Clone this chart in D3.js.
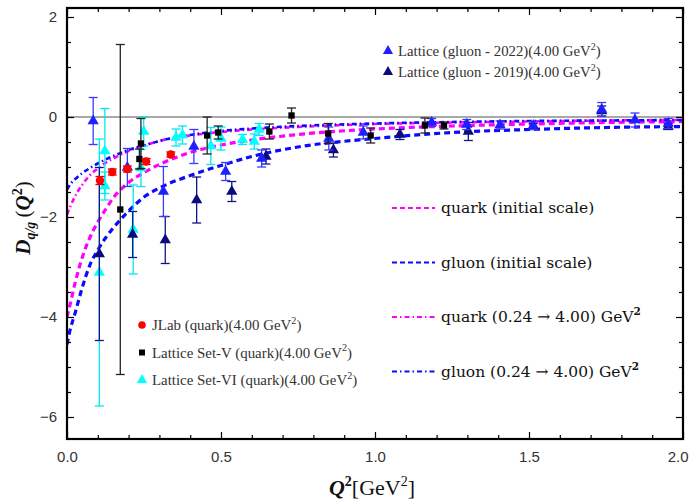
<!DOCTYPE html>
<html lang="en">
<head>
    <meta charset="UTF-8">
    <title>D-term form factors</title>
    <script src="https://d3js.org/d3.v7.min.js"></script>
    <style>
        body { margin: 0; background: #fff; }
        .ax text { font-family: "Liberation Sans", Arial, sans-serif; font-size: 15px; fill: #333; }
        .serif { font-family: "Liberation Serif", "Times New Roman", serif; }
        .cm { font-family: "DejaVu Serif", serif; }
    </style>
</head>
<body>
<svg id="chart"></svg>
<script>

    // ---- data ----
    const jlabQ2 = [0.107, 0.147, 0.196, 0.257, 0.337];
    const jlabD = [-1.27, -1.10, -1.04, -0.89, -0.75];
    const jlabErr = [0.08, 0.06, 0.06, 0.06, 0.05];

    const setVQ2 = [0.173, 0.235, 0.240, 0.455, 0.491, 0.657, 0.729, 0.848, 0.986, 1.162, 1.224];
    const setVD = [-1.85, -0.84, -0.53, -0.37, -0.31, -0.29, 0.03, -0.33, -0.37, -0.17, -0.17];
    const setVErr = [3.3, 0.2, 0.5, 0.37, 0.13, 0.15, 0.15, 0.2, 0.15, 0.15, 0.07];

    const setVIQ2 = [0.105, 0.123, 0.123, 0.215, 0.240, 0.249, 0.354, 0.375, 0.467, 0.500, 0.570, 0.608, 0.624];
    const setVID = [-3.11, -0.68, -1.38, -2.25, -1.02, -0.29, -0.41, -0.36, -0.58, -0.43, -0.45, -0.49, -0.25];
    const setVIErr = [2.67, 0.85, 0.28, 0.89, 0.37, 0.29, 0.17, 0.18, 0.37, 0.23, 0.1, 0.15, 0.12];

    const glue22Q2 = [0.085, 0.196, 0.313, 0.412, 0.515, 0.632, 0.850, 0.962, 1.184, 1.298, 1.406, 1.514, 1.736, 1.844, 1.952];
    const glue22D = [-0.08, -1.01, -1.49, -0.59, -1.09, -0.83, -0.43, -0.31, -0.11, -0.15, -0.16, -0.17, 0.15, -0.06, -0.13];
    const glue22Err = [0.47, 0.38, 0.5, 0.34, 0.18, 0.17, 0.23, 0.13, 0.08, 0.1, 0.08, 0.08, 0.14, 0.14, 0.1];

    const glue19Q2 = [0.105, 0.213, 0.319, 0.421, 0.535, 0.646, 0.865, 1.081, 1.303, 1.514, 1.736, 1.952];
    const glue19D = [-2.74, -2.35, -2.46, -1.66, -1.49, -0.79, -0.66, -0.35, -0.29, -0.19, 0.12, -0.19];
    const glue19Err = [1.73, 0.46, 0.47, 0.46, 0.2, 0.15, 0.14, 0.1, 0.18, 0.06, 0.1, 0.06];

    const curveQ2 = [0, 0.01, 0.025, 0.05, 0.075, 0.1, 0.125, 0.15, 0.2, 0.25, 0.3, 0.4, 0.5, 0.6, 0.75, 1.0, 1.25, 1.5, 1.75, 2.0];
    const quarkInit = [-4.0, -3.75, -3.35, -2.8, -2.4, -2.1, -1.85, -1.62, -1.31, -1.11, -0.95, -0.71, -0.56, -0.46, -0.35, -0.24, -0.18, -0.14, -0.11, -0.09];
    const gluonInit = [-4.55, -4.26, -3.95, -3.4, -2.95, -2.66, -2.42, -2.22, -1.88, -1.6, -1.42, -1.17, -0.97, -0.79, -0.6, -0.43, -0.31, -0.25, -0.21, -0.19];
    const quarkEvol = [-1.95, -1.8, -1.6, -1.35, -1.16, -1.03, -0.92, -0.83, -0.68, -0.57, -0.48, -0.37, -0.3, -0.25, -0.2, -0.14, -0.11, -0.09, -0.07, -0.06];
    const gluonEvol = [-1.45, -1.35, -1.25, -1.12, -1.02, -0.93, -0.85, -0.78, -0.66, -0.57, -0.48, -0.36, -0.28, -0.23, -0.18, -0.13, -0.1, -0.08, -0.07, -0.06];

    const xMajor = [0, 0.5, 1.0, 1.5, 2.0];
    const yMajor = [-6, -4, -2, 0, 2];

    // ---- layout ----
    const width = 690, height = 500;
    const mLeft = 67, mRight = 683, mTop = 8, mBottom = 439;

    const svg = d3.select('#chart').attr('width', width).attr('height', height);

    const x = d3.scaleLinear().domain([0, 2]).range([mLeft, mRight]);
    const y = d3.scaleLinear().domain([-6.44, 2.18]).range([mBottom, mTop]);

    svg.append('defs').append('clipPath').attr('id', 'clip')
        .append('rect').attr('x', mLeft).attr('y', mTop).attr('width', mRight - mLeft).attr('height', mBottom - mTop);

    // zero line
    svg.append('line')
        .attr('x1', mLeft).attr('x2', mRight).attr('y1', y(0)).attr('y2', y(0))
        .attr('stroke', '#8c8c8c').attr('stroke-width', 1.3);

    const plot = svg.append('g').attr('clip-path', 'url(#clip)');

    // ---- curves ----
    const line = d3.line().x(d => x(d[0])).y(d => y(d[1])).curve(d3.curveMonotoneX);
    let curves = [
        {vals: quarkInit, color: '#ff00ff', dash: '6,4', w: 3.2},
        {vals: gluonInit, color: '#0a0aff', dash: '6,4', w: 3.2},
        {vals: quarkEvol, color: '#ff00ff', dash: '5,3,1.5,3', w: 2.6},
        {vals: gluonEvol, color: '#0a0aff', dash: '5,3,1.5,3', w: 2.6}
    ];
    curves.forEach(c => {
        plot.append('path')
            .datum(curveQ2.map((q, i) => [q, c.vals[i]]))
            .attr('d', line)
            .attr('fill', 'none')
            .attr('stroke', c.color)
            .attr('stroke-width', c.w)
            .attr('stroke-dasharray', c.dash);
    });

    // ---- data points with error bars ----
    function series(qs, ds, es, color, barColor, symbol, size) {
        const pts = qs.map((q, i) => ({q: q, d: ds[i], e: es[i]}));
        const g = plot.append('g');
        const bars = g.selectAll('g.bar').data(pts).enter().append('g');
        bars.append('line')
            .attr('x1', p => x(p.q)).attr('x2', p => x(p.q))
            .attr('y1', p => y(p.d + p.e)).attr('y2', p => y(p.d - p.e))
            .attr('stroke', barColor).attr('stroke-width', 1.3);
        [1, -1].forEach(s => {
            bars.append('line')
                .attr('x1', p => x(p.q) - 4.5).attr('x2', p => x(p.q) + 4.5)
                .attr('y1', p => y(p.d + s * p.e)).attr('y2', p => y(p.d + s * p.e))
                .attr('stroke', barColor).attr('stroke-width', 1.3);
        });
        g.selectAll('path.mk').data(pts).enter().append('path')
            .attr('d', d3.symbol().type(symbol).size(size))
            .attr('transform', p => `translate(${x(p.q)},${y(p.d)})`)
            .attr('fill', color);
    }

    series(setVIQ2, setVID, setVIErr, '#00ffff', '#00e8f0', d3.symbolTriangle, 55);
    series(glue19Q2, glue19D, glue19Err, '#0b0b80', '#14148a', d3.symbolTriangle, 55);
    series(glue22Q2, glue22D, glue22Err, '#1f1fff', '#3a3aff', d3.symbolTriangle, 55);
    series(setVQ2, setVD, setVErr, '#000', '#222', d3.symbolSquare, 40);
    series(jlabQ2, jlabD, jlabErr, '#ff0000', '#e00000', d3.symbolCircle, 55);

    // ---- axes, ticks inward on all sides ----
    const xMinor = d3.range(0, 2.01, 0.1).filter(v => !xMajor.some(m => Math.abs(m - v) < 1e-6));
    const yMinor = d3.range(-6, 2.01, 0.5).filter(v => !yMajor.some(m => Math.abs(m - v) < 1e-6));

    function addAxis(axisFn, scale, tr, vals, size, withLabels, fmt) {
        const ax = axisFn(scale).tickValues(vals).tickSize(-size);
        if (withLabels) ax.tickFormat(fmt).tickPadding(withLabels); else ax.tickFormat('');
        const g = svg.append('g').attr('class', 'ax').attr('transform', tr).call(ax);
        g.select('.domain').remove();
        g.selectAll('line').attr('stroke', '#000').attr('stroke-width', 1.2);
        return g;
    }

    const xAx = addAxis(d3.axisBottom, x, `translate(0,${mBottom})`, xMajor, 7, 12, d3.format('.1f'));
    // keep the last label inside the window
    xAx.selectAll('text').filter(d => d === 2).attr('text-anchor', 'end').attr('dx', 5);
    addAxis(d3.axisBottom, x, `translate(0,${mBottom})`, xMinor, 4, 0);
    addAxis(d3.axisTop, x, `translate(0,${mTop})`, xMajor, 7, 0);
    addAxis(d3.axisTop, x, `translate(0,${mTop})`, xMinor, 4, 0);
    addAxis(d3.axisLeft, y, `translate(${mLeft},0)`, yMajor, 7, 10, d3.format('d'));
    addAxis(d3.axisLeft, y, `translate(${mLeft},0)`, yMinor, 4, 0);
    addAxis(d3.axisRight, y, `translate(${mRight},0)`, yMajor, 7, 0);
    addAxis(d3.axisRight, y, `translate(${mRight},0)`, yMinor, 4, 0);

    svg.append('rect')
        .attr('x', mLeft).attr('y', mTop).attr('width', mRight - mLeft).attr('height', mBottom - mTop)
        .attr('fill', 'none').attr('stroke', '#000').attr('stroke-width', 2.2);

    // ---- axis titles ----
    const xt = svg.append('text').attr('class', 'serif')
        .attr('x', 372).attr('y', 495).attr('text-anchor', 'middle')
        .attr('font-size', 22).attr('fill', '#111');
    xt.append('tspan').text('Q').attr('font-style', 'italic').attr('font-weight', 'bold');
    xt.append('tspan').text('2').attr('font-size', 14).attr('dy', -9).attr('font-weight', 'bold');
    xt.append('tspan').text('[GeV').attr('dy', 9);
    xt.append('tspan').text('2').attr('font-size', 14).attr('dy', -9);
    xt.append('tspan').text(']').attr('dy', 9);

    const yt = svg.append('text').attr('class', 'serif')
        .attr('transform', 'translate(30,218) rotate(-90)').attr('text-anchor', 'middle')
        .attr('font-size', 21).attr('fill', '#111').attr('font-weight', 'bold');
    yt.append('tspan').text('D').attr('font-style', 'italic');
    yt.append('tspan').text('q/g').attr('font-style', 'italic').attr('font-size', 14).attr('dy', 5);
    yt.append('tspan').text('\u2009(').attr('dy', -5).attr('font-weight', 'normal');
    yt.append('tspan').text('Q').attr('font-style', 'italic');
    yt.append('tspan').text('2').attr('font-size', 14).attr('dy', -8);
    yt.append('tspan').text(')').attr('dy', 8).attr('font-weight', 'normal');

    // ---- legends ----
    function supText(g, xx, yy, base, size, color, weight) {
        const t = g.append('text').attr('class', 'serif').attr('x', xx).attr('y', yy)
            .attr('font-size', size).attr('fill', color).attr('font-weight', weight || 'normal');
        t.append('tspan').text(base);
        t.append('tspan').text('2').attr('font-size', size * 0.68).attr('dy', -size * 0.42);
        t.append('tspan').text(')').attr('dy', size * 0.42);
        return t;
    }

    const topLeg = [
        {label: 'Lattice (gluon - 2022)(4.00 GeV', color: '#1f1fff'},
        {label: 'Lattice (gluon - 2019)(4.00 GeV', color: '#0b0b80'}
    ];
    topLeg.forEach((l, i) => {
        const yy = 51 + i * 21;
        svg.append('path').attr('d', d3.symbol().type(d3.symbolTriangle).size(45))
            .attr('transform', `translate(388,${yy})`).attr('fill', l.color);
        supText(svg, 398, yy + 5, l.label, 14.8, '#333');
    });

    const botLeg = [
        {label: 'JLab (quark)(4.00 GeV', color: '#ff0000', sym: d3.symbolCircle, sz: 45},
        {label: 'Lattice Set-V (quark)(4.00 GeV', color: '#000', sym: d3.symbolSquare, sz: 36},
        {label: 'Lattice Set-VI (quark)(4.00 GeV', color: '#00ffff', sym: d3.symbolTriangle, sz: 45}
    ];
    botLeg.forEach((l, i) => {
        const yy = 325 + i * 27.5;
        svg.append('path').attr('d', d3.symbol().type(l.sym).size(l.sz))
            .attr('transform', `translate(142,${yy})`).attr('fill', l.color);
        supText(svg, 152, yy + 5, l.label, 14.9, '#333');
    });

    const lineLeg = [
        {label: 'quark (initial scale)', color: '#ff00ff', dash: '5,3', evol: false},
        {label: 'gluon (initial scale)', color: '#0a0aff', dash: '5,3', evol: false},
        {label: 'quark (0.24 \u2192 4.00) GeV', color: '#ff00ff', dash: '5,3,1.5,3', evol: true},
        {label: 'gluon (0.24 \u2192 4.00) GeV', color: '#0a0aff', dash: '5,3,1.5,3', evol: true}
    ];
    lineLeg.forEach((l, i) => {
        const yy = 208 + i * 54.5;
        svg.append('line').attr('x1', 392).attr('x2', 435).attr('y1', yy).attr('y2', yy)
            .attr('stroke', l.color).attr('stroke-width', 2).attr('stroke-dasharray', l.dash);
        const t = svg.append('text').attr('class', 'cm').attr('x', 441).attr('y', yy + 5)
            .attr('font-size', 15.5).attr('fill', '#111');
        t.append('tspan').text(l.label);
        if (l.evol) t.append('tspan').text('2').attr('font-size', 10.5).attr('dy', -7).attr('font-weight', 'bold');
    });

</script>
</body>
</html>
